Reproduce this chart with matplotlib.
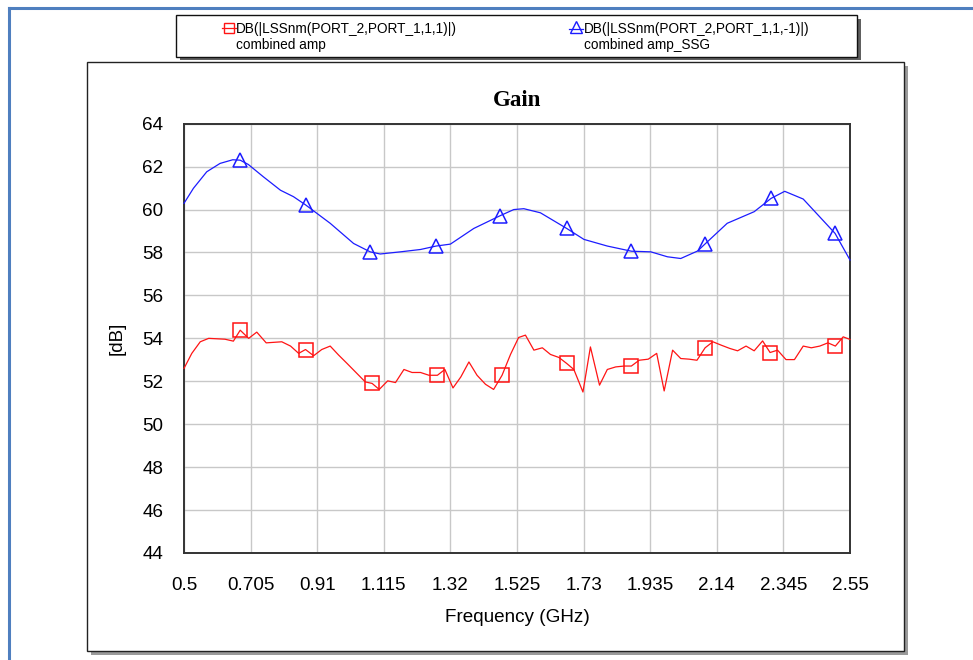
import matplotlib
matplotlib.use("Agg")
import matplotlib.pyplot as plt
from matplotlib.patches import Rectangle
from matplotlib.lines import Line2D

# ---------------- data ----------------
freq_ssg = [0.500, 0.529, 0.570, 0.611, 0.650, 0.673, 0.698, 0.744, 0.797, 0.837,
            0.874, 0.950, 1.022, 1.073, 1.104, 1.166, 1.228, 1.276, 1.320, 1.392,
            1.474, 1.515, 1.546, 1.597, 1.678, 1.731, 1.803, 1.877, 1.937, 1.988,
            2.029, 2.081, 2.104, 2.172, 2.255, 2.307, 2.349, 2.406, 2.504, 2.550]
gain_ssg = [60.29, 60.99, 61.76, 62.15, 62.32, 62.30, 62.10, 61.53, 60.90, 60.60,
            60.22, 59.36, 58.42, 58.03, 57.93, 58.03, 58.14, 58.30, 58.39, 59.12,
            59.72, 60.00, 60.04, 59.85, 59.12, 58.61, 58.30, 58.06, 58.03, 57.80,
            57.72, 58.07, 58.40, 59.36, 59.90, 60.52, 60.85, 60.49, 58.89, 57.65]
markers_ssg = [0.673, 0.874, 1.073, 1.276, 1.474, 1.678, 1.877, 2.104, 2.307, 2.504]

freq_amp = [0.500, 0.524, 0.550, 0.576, 0.626, 0.652, 0.673, 0.699, 0.724, 0.753,
            0.801, 0.828, 0.853, 0.874, 0.899, 0.924, 0.950, 0.976, 1.002, 1.058,
            1.079, 1.101, 1.127, 1.151, 1.177, 1.202, 1.228, 1.254, 1.280, 1.303,
            1.328, 1.352, 1.377, 1.402, 1.428, 1.453, 1.479, 1.505, 1.530, 1.551,
            1.577, 1.603, 1.628, 1.654, 1.678, 1.700, 1.728, 1.751, 1.779, 1.803,
            1.829, 1.855, 1.877, 1.901, 1.929, 1.955, 1.978, 2.004, 2.029, 2.055,
            2.079, 2.104, 2.128, 2.154, 2.180, 2.204, 2.230, 2.255, 2.281, 2.304,
            2.327, 2.353, 2.379, 2.406, 2.431, 2.457, 2.482, 2.505, 2.529, 2.550]
gain_amp = [52.60, 53.30, 53.84, 54.00, 53.96, 53.87, 54.38, 54.00, 54.29, 53.79,
            53.84, 53.64, 53.30, 53.48, 53.19, 53.48, 53.64, 53.22, 52.83, 51.97,
            51.90, 51.62, 52.02, 51.94, 52.55, 52.41, 52.41, 52.28, 52.28, 52.55,
            51.69, 52.20, 52.90, 52.28, 51.86, 51.62, 52.28, 53.25, 54.04, 54.15,
            53.45, 53.56, 53.25, 53.11, 52.83, 52.55, 51.50, 53.60, 51.82, 52.55,
            52.67, 52.71, 52.71, 52.98, 53.03, 53.30, 51.55, 53.45, 53.06, 53.03,
            52.98, 53.56, 53.84, 53.68, 53.53, 53.42, 53.64, 53.42, 53.88, 53.34,
            53.45, 53.01, 53.01, 53.64, 53.56, 53.64, 53.79, 53.64, 54.07, 53.95]
markers_amp = [0.673, 0.874, 1.079, 1.280, 1.479, 1.678, 1.877, 2.104, 2.304, 2.505]

x_ticks = [0.5, 0.705, 0.91, 1.115, 1.32, 1.525, 1.73, 1.935, 2.14, 2.345, 2.55]
x_tick_labels = ["0.5", "0.705", "0.91", "1.115", "1.32", "1.525", "1.73", "1.935",
                 "2.14", "2.345", "2.55"]
y_ticks = [44, 46, 48, 50, 52, 54, 56, 58, 60, 62, 64]

legend_amp = ["DB(|LSSnm(PORT_2,PORT_1,1,1)|)", "combined amp"]
legend_ssg = ["DB(|LSSnm(PORT_2,PORT_1,1,-1)|)", "combined amp_SSG"]

# ---------------- figure ----------------
W, H = 973, 660
fig = plt.figure(figsize=(W / 100, H / 100), dpi=100)
fig.patch.set_facecolor("white")


def fx(px):
    return px / W


def fy(py):
    return 1 - py / H


def rect(x0, y0, x1, y1, **kw):
    r = Rectangle((fx(x0), fy(y1)), fx(x1) - fx(x0), fy(y0) - fy(y1),
                  transform=fig.transFigure, **kw)
    fig.patches.append(r)
    return r


def fline(xs, ys, **kw):
    ln = Line2D([fx(v) for v in xs], [fy(v) for v in ys], transform=fig.transFigure, **kw)
    fig.lines.append(ln)
    return ln


RED = "#ff1414"
BLUE = "#1c1cff"
FONT = "Liberation Sans"

# outer blue frame
fline([9, 9], [8, H + 5], color="#4f7fbf", lw=2.2, zorder=5)
fline([9, W + 5], [8, 8], color="#4f7fbf", lw=2.2, zorder=5)

# panel with shadow
rect(91, 66, 908, 655, facecolor="#9a9a9a", edgecolor="none", zorder=-3)
rect(87, 62, 904, 651, facecolor="white", edgecolor="#222222", lw=1.0, zorder=-2)

# legend box with shadow
rect(180, 19, 861, 60, facecolor="#606060", edgecolor="none", zorder=1)
rect(176, 15, 857, 57, facecolor="white", edgecolor="#111111", lw=1.0, zorder=2)

# legend entries
fline([222, 236], [28, 28], color=RED, lw=0.9, zorder=3)
fline([228.5], [27.5], color=RED, lw=0, marker="s", ms=7.5, mfc="none", mew=1.0, zorder=3)
fline([569, 583], [29, 29], color=BLUE, lw=0.9, zorder=3)
fline([575.5], [27], color=BLUE, lw=0, marker="^", ms=8, mfc="none", mew=1.0, zorder=3)

fig.text(fx(236), fy(29), legend_amp[0], fontsize=9.8, family=FONT, va="center",
         ha="left", zorder=3)
fig.text(fx(236), fy(45.5), legend_amp[1], fontsize=9.8, family=FONT, va="center",
         ha="left", zorder=3)
fig.text(fx(584), fy(29), legend_ssg[0], fontsize=9.8, family=FONT, va="center",
         ha="left", zorder=3)
fig.text(fx(584), fy(45.5), legend_ssg[1], fontsize=9.8, family=FONT, va="center",
         ha="left", zorder=3)

# axes
ax = fig.add_axes([fx(184), fy(553), fx(850) - fx(184), fy(123.7) - fy(553)])
ax.set_zorder(0)
ax.set_facecolor("white")

mi_ssg = [freq_ssg.index(m) for m in markers_ssg]
mi_amp = [freq_amp.index(m) for m in markers_amp]

ax.plot(freq_amp, gain_amp, color=RED, lw=0.9, marker="s", markevery=mi_amp,
        ms=9.5, mfc="none", mec=RED, mew=1.1, clip_on=False, zorder=3)
ax.plot(freq_ssg, gain_ssg, color=BLUE, lw=0.9, marker="^", markevery=mi_ssg,
        ms=10.5, mfc="none", mec=BLUE, mew=1.1, clip_on=False, zorder=3)

ax.set_xlim(0.5, 2.55)
ax.set_ylim(44, 64)
ax.set_xticks(x_ticks)
ax.set_xticklabels(x_tick_labels)
ax.set_yticks(y_ticks)
ax.tick_params(axis="both", length=0, labelsize=13.6)
ax.tick_params(axis="x", pad=17)
ax.tick_params(axis="y", pad=15)
for lab in ax.get_xticklabels() + ax.get_yticklabels():
    lab.set_family(FONT)

ax.grid(True, color="#c8c8c8", lw=1.0)
ax.set_axisbelow(True)
for s in ax.spines.values():
    s.set_color("#333333")
    s.set_linewidth(1.4)

fig.text(fx(517), fy(617), "Frequency (GHz)", fontsize=13.6, family=FONT,
         ha="center", va="center")
fig.text(fx(117), fy(338), "[dB]", fontsize=13.6, family=FONT, rotation=90,
         ha="center", va="center")
fig.text(fx(517), fy(101), "Gain", fontsize=16.5, family="Liberation Serif",
         weight="bold", ha="center", va="center")

fig.savefig("out.png", dpi=100, facecolor="white")
